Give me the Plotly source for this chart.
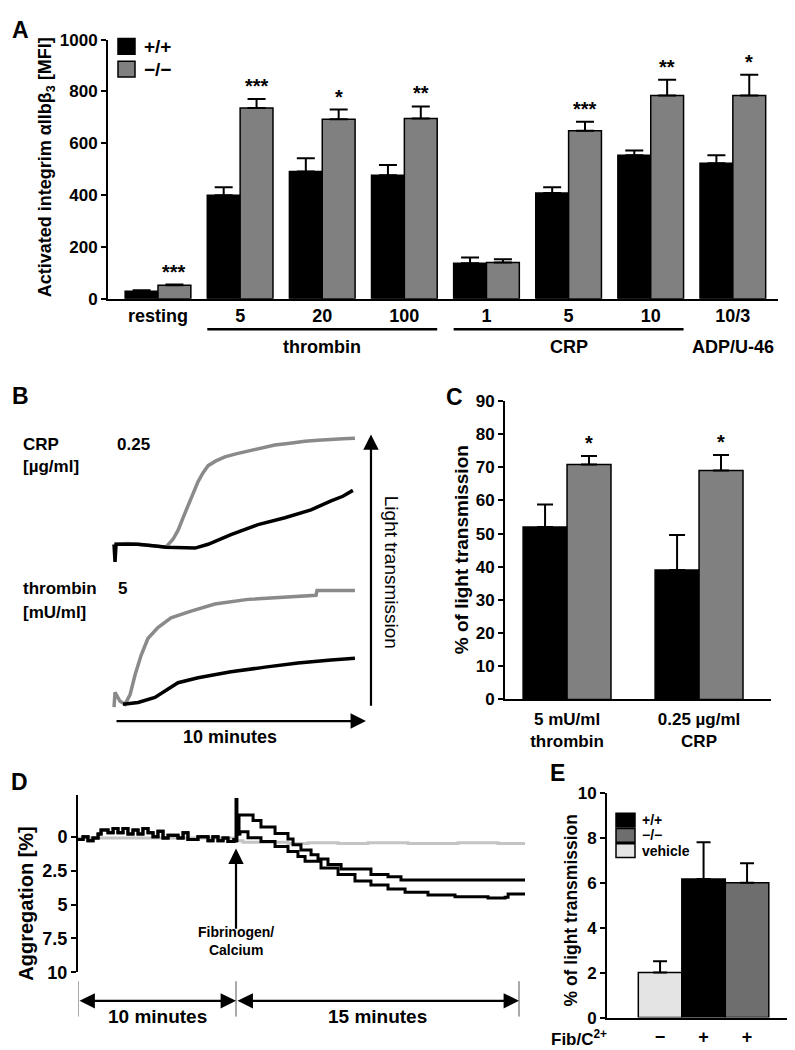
import plotly.graph_objects as go

W, H = 795, 1050
def fx(p): return p / W
def fy(p): return 1 - p / H

FONT = "Liberation Sans"
BLACK = "#000000"
GREY = "#808080"
DGREY = "#6e6e6e"
LGREY = "#e4e4e4"
TRACE_GREY = "#8a8a8a"
VEH_GREY = "#c4c4c4"

def bold(size, color=BLACK):
    return dict(family=FONT, size=size, color=color, weight="bold")

# ---------------- Panel A data ----------------
a_categories = ["resting", "5", "20", "100", "1", "5", "10", "10/3"]
a_wt = [29, 399, 491, 477, 137, 408, 554, 523]
a_wt_err = [4, 31, 51, 39, 22, 22, 18, 31]
a_ko = [52, 736, 693, 696, 140, 648, 784, 784]
a_ko_err = [3, 35, 37, 46, 13, 35, 61, 80]
a_sig = ["***", "***", "*", "**", "", "***", "**", "*"]
a_groups = [("thrombin", 1, 3, True), ("CRP", 4, 6, True), ("ADP/U-46", 7, 7, False)]
a_yticks = [0, 200, 400, 600, 800, 1000]

# ---------------- Panel B data (time [min], light transmission [a.u.]) ----------------
b_crp_t_ko = [0, 0.52, 1.31, 2.03, 2.31, 2.51, 2.71, 2.91, 3.11, 3.31, 3.51, 3.71, 4.02, 4.38,
              4.82, 5.30, 5.82, 6.37, 6.97, 7.57, 8.09, 8.61, 9.08, 9.56]
b_crp_ko = [61.0, 61.3, 60.7, 60.0, 62.7, 65.7, 70.0, 74.3, 78.3, 82.3, 85.3, 87.7, 89.3, 90.7,
            91.7, 92.7, 93.7, 94.7, 95.3, 96.0, 96.3, 96.7, 96.8, 97.0]
b_crp_t_wt = [-0.04, 0, 0.04, 0.92, 1.71, 2.03, 3.19, 3.71, 4.62, 5.70, 6.77, 7.81, 8.61, 9.08, 9.48]
b_crp_wt = [61.0, 55.0, 61.0, 61.0, 60.3, 60.0, 59.7, 61.0, 64.3, 67.7, 70.0, 72.7, 75.7, 77.3, 79.3]
b_thr_t_ko = [-0.04, 0, 0.20, 0.40, 0.60, 0.80, 1.04, 1.31, 1.71, 2.23, 3.03, 3.98, 5.30, 6.61,
              8.01, 8.05, 9.56]
b_thr_ko = [5.7, 10.7, 7.7, 6.7, 10.0, 16.7, 23.3, 29.0, 32.7, 36.0, 38.3, 40.7, 42.3, 43.0,
            43.7, 45.3, 45.3]
b_thr_t_wt = [0.32, 0.92, 1.59, 2.11, 2.51, 3.31, 4.62, 5.98, 7.29, 8.61, 9.56]
b_thr_wt = [6.7, 7.3, 9.0, 11.7, 14.0, 15.7, 17.7, 19.3, 20.7, 21.7, 22.3]
b_time_span = [0, 10]           # "10 minutes" time arrow
b_signal_span = [5.7, 98.3]     # "Light transmission" arrow

# ---------------- Panel C data ----------------
c_categories = ["5 mU/ml<br>thrombin", "0.25 µg/ml<br>CRP"]
c_wt = [52, 39]
c_wt_err = [6.8, 10.6]
c_ko = [70.8, 69.0]
c_ko_err = [2.6, 4.7]
c_sig = ["*", "*"]
c_yticks = [0, 10, 20, 30, 40, 50, 60, 70, 80, 90]

# ---------------- Panel D data (recording time, aggregation [%]) ----------------
d_base_t = [0.00, 0.32, 0.63, 0.95, 1.27, 1.46, 1.90, 2.22, 2.53, 2.85, 3.16, 3.48, 3.80, 4.11,
            4.43, 4.75, 5.06, 5.38, 5.70, 6.33, 6.65, 6.96, 7.59, 8.23, 8.54, 8.86, 9.18, 9.49, 9.87]
d_base = [0.2, 0.0, 0.3, 0.1, -0.2, -0.5, -0.3, -0.6, -0.3, -0.6, -0.2, -0.5, -0.2, -0.6,
          -0.3, 0.0, -0.4, 0.1, -0.1, 0.1, -0.3, 0.2, 0.0, 0.3, 0.0, 0.3, 0.1, 0.35, 0.2]
d_hi_t = [9.94, 10.0, 10.06, 10.19, 11.08, 11.58, 12.47, 13.29, 13.61, 14.11, 14.75, 15.19,
          15.82, 16.65, 18.54, 19.62, 20.44, 28.29]
d_hi = [0.3, -2.75, -0.2, -1.6, -1.2, -0.72, -0.24, 0.17, 0.6, 0.97, 1.33, 1.64,
        2.05, 2.37, 2.78, 2.95, 3.19, 3.19]
d_lo_t = [9.94, 10.06, 10.25, 10.76, 11.58, 12.47, 13.29, 13.92, 14.37, 15.38, 16.46, 17.53,
          18.54, 19.62, 20.70, 22.15, 23.86, 25.95, 27.03, 27.22, 28.29]
d_lo = [0.3, -0.2, -0.36, 0.07, 0.36, 0.72, 1.09, 1.45, 1.81, 2.3, 2.78, 3.26,
        3.55, 3.86, 4.1, 4.3, 4.42, 4.52, 4.47, 4.23, 4.3]
d_veh_t = [0.0, 10.0, 10.44, 12.03, 13.29, 14.56, 16.46, 18.35, 20.89, 24.05, 26.58, 28.29]
d_veh = [0.1, 0.3, 0.4, 0.4, 0.5, 0.45, 0.5, 0.45, 0.5, 0.45, 0.5, 0.5]
d_yticks = [0, 2.5, 5, 7.5, 10]
d_yticklabels = ["0", "2.5", "5", "7.5", "10"]
d_addition = 10.0      # fibrinogen/calcium addition
d_end = 27.91          # end of recording marker
d_marks = [0, d_addition, d_end]
d_periods = ["10 minutes", "15 minutes"]
d_add_arrow = [6.9, 0.87]   # arrow span (aggregation units)

# ---------------- Panel E data ----------------
e_labels = ["vehicle", "+/+", "−/−"]
e_fib = ["−", "+", "+"]
e_vals = [2.0, 6.16, 6.0]
e_err = [0.5, 1.64, 0.86]
e_colors = [LGREY, BLACK, DGREY]
e_yticks = [0, 2, 4, 6, 8, 10]

fig = go.Figure()

# ---- A bars ----
a_x = list(range(len(a_categories)))
ebar = dict(type="data", symmetric=False, color=BLACK, thickness=2, width=9)
fig.add_bar(x=a_x, y=a_wt, width=0.4, offset=-0.4, name="+/+",
            marker=dict(color=BLACK, line=dict(color=BLACK, width=1.5)),
            error_y=dict(ebar, array=a_wt_err, arrayminus=[0] * len(a_x)),
            xaxis="x", yaxis="y")
fig.add_bar(x=a_x, y=a_ko, width=0.4, offset=0.0, name="−/−",
            marker=dict(color=GREY, line=dict(color=BLACK, width=1.5)),
            error_y=dict(ebar, array=a_ko_err, arrayminus=[0] * len(a_x)),
            xaxis="x", yaxis="y")

# ---- B traces ----
for t, v, c in [(b_crp_t_ko, b_crp_ko, TRACE_GREY), (b_crp_t_wt, b_crp_wt, BLACK),
                (b_thr_t_ko, b_thr_ko, TRACE_GREY), (b_thr_t_wt, b_thr_wt, BLACK)]:
    fig.add_scatter(x=t, y=v, mode="lines", line=dict(color=c, width=3.5),
                    xaxis="x2", yaxis="y2", hoverinfo="skip")

# ---- C bars ----
c_x = list(range(len(c_categories)))
fig.add_bar(x=c_x, y=c_wt, width=0.333, offset=-0.333, name="+/+",
            marker=dict(color=BLACK, line=dict(color=BLACK, width=1.5)),
            error_y=dict(ebar, array=c_wt_err, arrayminus=[0] * len(c_x), width=8),
            xaxis="x3", yaxis="y3")
fig.add_bar(x=c_x, y=c_ko, width=0.333, offset=0.0, name="−/−",
            marker=dict(color=GREY, line=dict(color=BLACK, width=1.5)),
            error_y=dict(ebar, array=c_ko_err, arrayminus=[0] * len(c_x), width=8),
            xaxis="x3", yaxis="y3")

# ---- D traces ----
fig.add_scatter(x=d_veh_t, y=d_veh, mode="lines", line=dict(color=VEH_GREY, width=3, shape="hv"),
                xaxis="x4", yaxis="y4", hoverinfo="skip")
fig.add_scatter(x=d_base_t + d_lo_t, y=d_base + d_lo, mode="lines",
                line=dict(color=BLACK, width=3, shape="hv"), xaxis="x4", yaxis="y4", hoverinfo="skip")
fig.add_scatter(x=d_base_t + d_hi_t, y=d_base + d_hi, mode="lines",
                line=dict(color=BLACK, width=3, shape="hv"), xaxis="x4", yaxis="y4", hoverinfo="skip")

# ---- E bars ----
e_x = list(range(len(e_vals)))
fig.add_bar(x=e_x, y=e_vals, width=1.0, offset=-0.5,
            marker=dict(color=e_colors, line=dict(color=BLACK, width=1.5)),
            error_y=dict(ebar, array=e_err, arrayminus=[0] * len(e_x), width=7),
            xaxis="x5", yaxis="y5")

def ax_common(**kw):
    d = dict(showgrid=False, zeroline=False, showline=True, linecolor=BLACK, linewidth=2,
             ticks="outside", tickcolor=BLACK, tickwidth=2, ticklen=5, tickfont=bold(17),
             fixedrange=True)
    d.update(kw)
    return d

fig.update_layout(
    width=W, height=H, margin=dict(l=0, r=0, t=0, b=0),
    paper_bgcolor="white", plot_bgcolor="rgba(0,0,0,0)",
    showlegend=False, barmode="overlay",
    font=dict(family=FONT, color=BLACK),
    xaxis=ax_common(domain=[fx(100), fx(770)], range=[-0.609, 7.55], tickvals=a_x,
                    ticktext=a_categories, ticks="", tickfont=bold(18), ticklabelstandoff=0,
                    anchor="y"),
    yaxis=ax_common(domain=[fy(287), fy(23)], range=[0, 1000], tickvals=a_yticks, anchor="x"),
    xaxis2=dict(domain=[fx(102), fx(368)], range=[-0.2, 10.4], visible=False, anchor="y2",
                fixedrange=True),
    yaxis2=dict(domain=[fy(720), fy(420)], range=[0, 100], visible=False, anchor="x2",
                fixedrange=True),
    xaxis3=ax_common(domain=[fx(497), fx(763)], range=[-0.47, 1.545], tickvals=c_x,
                     ticktext=c_categories, ticks="", tickfont=bold(17), ticklabelstandoff=3,
                     anchor="y3"),
    yaxis3=ax_common(domain=[fy(695), fy(391)], range=[0, 90], tickvals=c_yticks, anchor="x3"),
    xaxis4=dict(domain=[fx(70), fx(517)], range=[0, 28.29], visible=False, anchor="y4",
                fixedrange=True),
    yaxis4=ax_common(domain=[fy(973), fy(792)], range=[10, -3.1], tickvals=d_yticks,
                     ticktext=d_yticklabels, tickfont=bold(18), anchor="x4"),
    xaxis5=ax_common(domain=[fx(599), fx(793)], range=[-1.22, 3.24], tickvals=e_x,
                     ticktext=e_fib, ticks="", tickfont=bold(18), ticklabelstandoff=2,
                     anchor="y5"),
    yaxis5=ax_common(domain=[fy(1019), fy(790)], range=[0, 10], tickvals=e_yticks, anchor="x5"),
)

ann = []
shapes = []

def text(x, y, s, size, xanchor="center", yanchor="middle", xref="paper", yref="paper",
         angle=0, weight="bold"):
    ann.append(dict(x=x, y=y, text=s, xref=xref, yref=yref, xanchor=xanchor, yanchor=yanchor,
                    showarrow=False, textangle=angle,
                    font=dict(family=FONT, size=size, color=BLACK, weight=weight)))

def arrow(x0, y0, x1, y1, xref, yref, both=False):
    d = dict(x=x1, y=y1, ax=x0, ay=y0, xref=xref, yref=yref, axref=xref, ayref=yref,
             text="", showarrow=True, arrowhead=2, arrowsize=1.4, arrowwidth=2.2,
             arrowcolor=BLACK)
    if both:
        d.update(arrowside="end+start", startarrowhead=2, startarrowsize=1.4)
    ann.append(d)

# ---- Panel labels ----
text(fx(2), fy(13), "A", 23, xanchor="left")
text(fx(2), fy(386), "B", 23, xanchor="left")
text(fx(436), fy(387), "C", 23, xanchor="left")
text(fx(1), fy(779), "D", 23, xanchor="left")
text(fx(540), fy(770), "E", 23, xanchor="left")

# ---- A extras ----
text(fx(38), fy(153), "Activated integrim αIIbβ<sub>3</sub> [MFI]", 18, angle=-90)
for i, s in enumerate(a_sig):
    if s:
        ann.append(dict(x=a_x[i] + 0.2, y=a_ko[i] + a_ko_err[i], xref="x", yref="y", text=s,
                        showarrow=False, yanchor="bottom", font=bold(20)))
for label, g0, g1, line in a_groups:
    if line:
        shapes.append(dict(type="line", xref="x", yref="paper", x0=g0 - 0.4, x1=g1 + 0.4,
                           y0=fy(318), y1=fy(318), line=dict(color=BLACK, width=2.5)))
    text((g0 + g1) / 2, fy(336), label, 18, xref="x")
# A legend
for k, (lab, col, top) in enumerate([("+/+", BLACK, 22), ("−/−", GREY, 45)]):
    shapes.append(dict(type="rect", xref="paper", yref="paper", x0=fx(110), x1=fx(127),
                       y0=fy(top + 16), y1=fy(top), fillcolor=col,
                       line=dict(color=BLACK, width=1.5)))
    text(fx(134), fy(top + 8), lab, 19, xanchor="left")

# ---- B extras ----
text(fx(13), fy(435), "CRP", 17, xanchor="left")
text(fx(13), fy(458), "[µg/ml]", 17, xanchor="left")
text(fx(107), fy(435), "0.25", 17, xanchor="left")
text(fx(13), fy(582), "thrombin", 17, xanchor="left")
text(fx(13), fy(606), "[mU/ml]", 17, xanchor="left")
text(fx(108), fy(582), "5", 17, xanchor="left")
text(fx(222), fy(733), "10 minutes", 18)
text(fx(383), fy(565), "Light transmission", 19, angle=90, weight="normal")
arrow(b_time_span[0], 1.0, b_time_span[1], 1.0, "x2", "y2")
arrow(10.2, b_signal_span[0], 10.2, b_signal_span[1], "x2", "y2")

# ---- C extras ----
text(fx(453), fy(543), "% of light transmission", 19, angle=-90)
for i, s in enumerate(c_sig):
    ann.append(dict(x=c_x[i] + 0.1665, y=c_ko[i] + c_ko_err[i], xref="x3", yref="y3", text=s,
                    showarrow=False, yanchor="bottom", font=bold(20)))

# ---- D extras ----
text(fx(18), fy(903), "Aggregation [%]", 20, angle=-90)
arrow(d_addition, d_add_arrow[0], d_addition, d_add_arrow[1], "x4", "y4")
text(d_addition, 7.65, "Fibrinogen/<br>Calcium", 14, xref="x4", yref="y4")
for xv in d_marks:
    shapes.append(dict(type="line", xref="x4", yref="paper", x0=xv, x1=xv, y0=fy(1018),
                       y1=fy(982), line=dict(color="#555555", width=1)))
for a, b, lab in zip(d_marks[:-1], d_marks[1:], d_periods):
    ann.append(dict(x=b, y=fy(1002), ax=a, ay=0, xref="x4", yref="paper", axref="x4",
                    ayref="pixel", text="", showarrow=True, arrowhead=2, startarrowhead=2,
                    arrowside="end+start", arrowsize=1.4, startarrowsize=1.4, arrowwidth=2.2,
                    arrowcolor=BLACK))
    text((a + b) / 2, fy(1018), lab, 19, xref="x4")

# ---- E extras ----
text(fx(563), fy(910), "% of light transmission", 17.5, angle=-90)
text(fx(541), fy(1040), "Fib/C<sup>2+</sup>", 17, xanchor="left")
# E legend (order: +/+, −/−, vehicle)
for k, idx in enumerate([1, 2, 0]):
    top = 811 + 15.5 * k
    shapes.append(dict(type="rect", xref="paper", yref="paper", x0=fx(608), x1=fx(627),
                       y0=fy(top + 14), y1=fy(top), fillcolor=e_colors[idx],
                       line=dict(color=BLACK, width=1.5)))
    text(fx(632), fy(top + 7), e_labels[idx], 14, xanchor="left")

fig.update_layout(annotations=ann, shapes=shapes)
fig.write_html("out.html")
